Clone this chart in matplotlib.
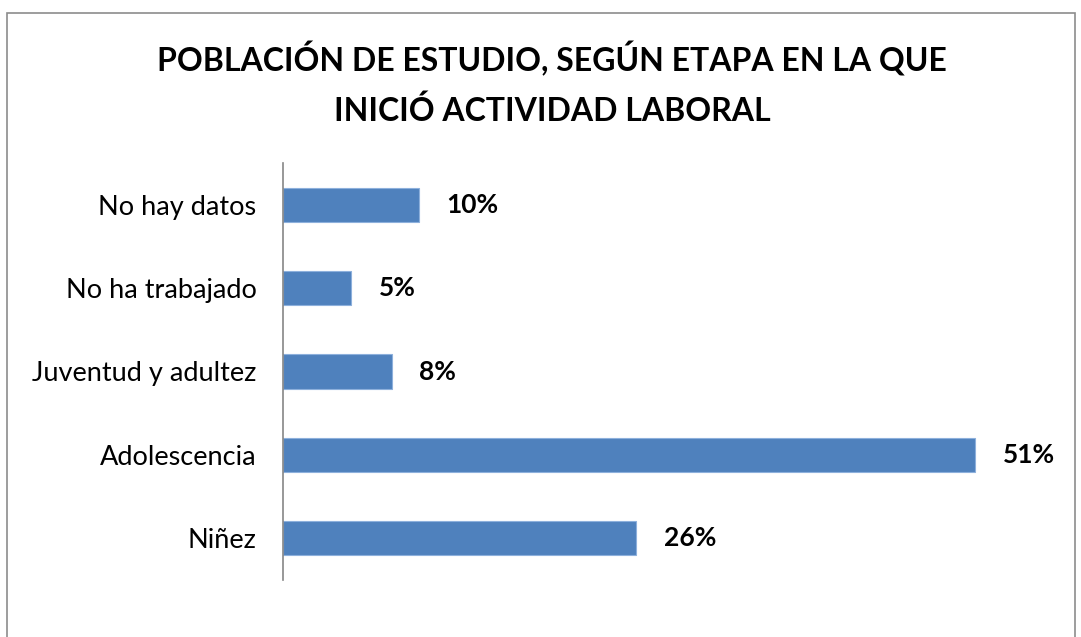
import matplotlib
matplotlib.use("Agg")
import matplotlib.pyplot as plt
from matplotlib.patches import Rectangle

# data, bottom to top as drawn
categorias = ["Niñez", "Adolescencia", "Juventud y adultez", "No ha trabajado", "No hay datos"]
porcentajes = [26, 51, 8, 5, 10]
titulo = "POBLACIÓN DE ESTUDIO, SEGÚN ETAPA EN LA QUE\nINICIÓ ACTIVIDAD LABORAL"

plt.rcParams['font.family'] = ['Lato', 'DejaVu Sans']

W, H = 1081, 637
fig = plt.figure(figsize=(W / 100, H / 100), dpi=100)

# outer chart border (runs off the bottom of the picture)
fig.patches.append(Rectangle((7 / W, -0.05), (1075 - 7) / W, (H - 13) / H + 0.05,
                             transform=fig.transFigure, fill=False,
                             edgecolor='#8c8c8c', linewidth=1.2))

ax = fig.add_axes([283 / W, (H - 580) / H, (1043 - 283) / W, (580 - 163) / H])
y = range(len(categorias))
bars = ax.barh(y, porcentajes, height=0.41, color='#4F81BD', edgecolor='#8db0dc', linewidth=0.8)
ax.set_xlim(0, 56)
ax.set_ylim(-0.5, 4.5)
ax.set_yticks(list(y))
ax.set_yticklabels(categorias, fontsize=19.5)
ax.tick_params(axis='y', length=0, pad=19)
ax.set_xticks([])
for s in ['top', 'right', 'bottom']:
    ax.spines[s].set_visible(False)
ax.spines['left'].set_color('#868686')
ax.spines['left'].set_linewidth(1.2)

for b, v in zip(bars, porcentajes):
    ax.annotate(f"{v}%", (b.get_width(), b.get_y() + b.get_height() / 2),
                xytext=(20, 0), textcoords='offset points', va='center', ha='left',
                fontsize=19, fontweight='bold')

fig.text(552 / W, 1 - 84 / H, titulo, ha='center', va='center', fontsize=23,
         fontweight='bold', linespacing=1.75)

fig.savefig("out.png", dpi=100)
